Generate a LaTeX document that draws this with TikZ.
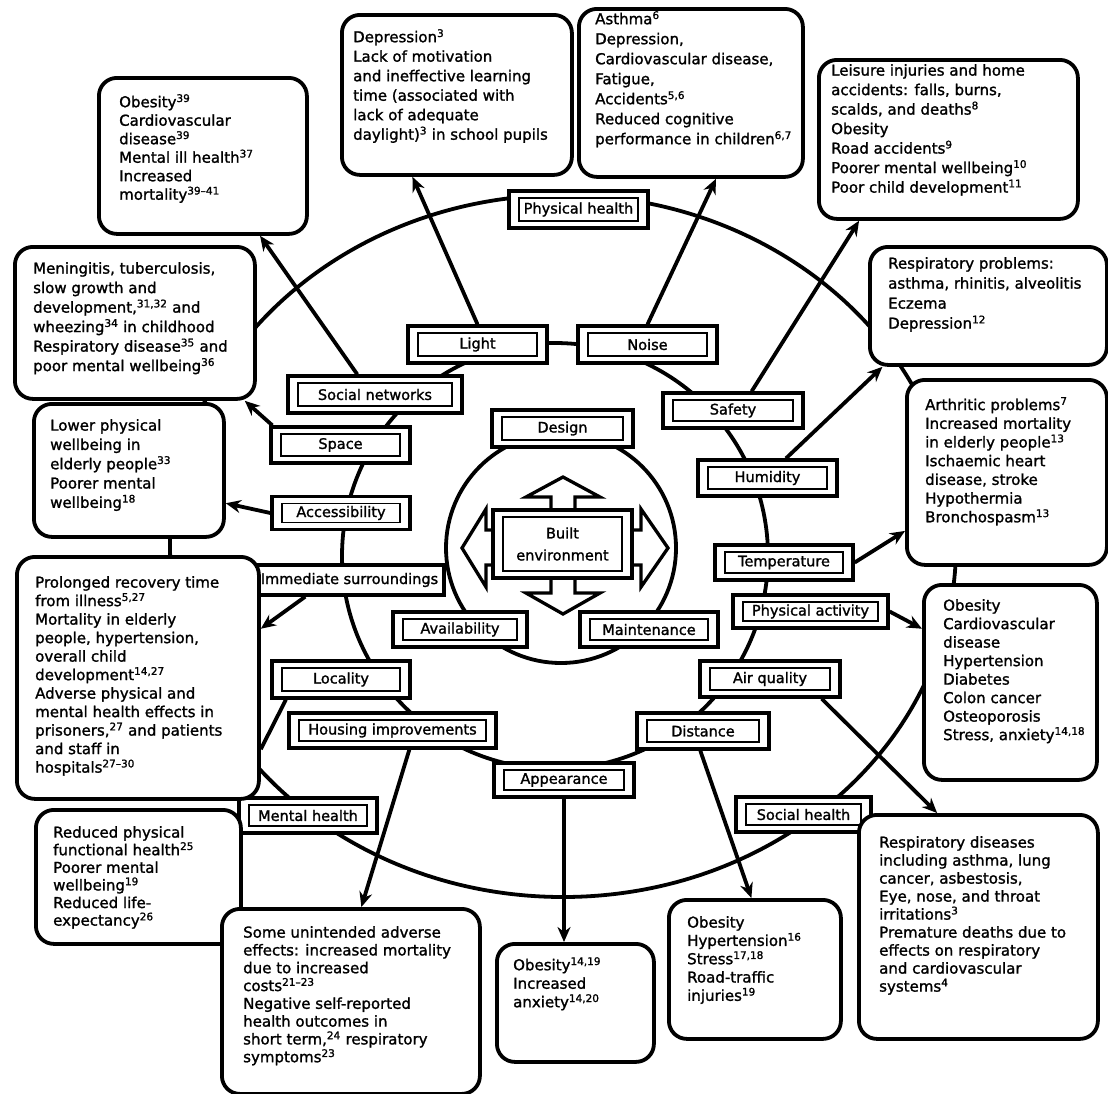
\documentclass[tikz,border=0pt]{standalone}
\usepackage{fontspec}
\setmainfont{DejaVu Sans}[FakeBold=1.4]
\usetikzlibrary{calc,arrows.meta}
\newcommand{\ssp}[1]{\textsuperscript{#1}}
\begin{document}
\begin{tikzpicture}[x=1pt,y=-1pt,
  ring/.style={draw,line width=3.8pt},
  obox/.style={draw,line width=3.8pt,rounded corners=18pt,fill=white,inner sep=0pt,anchor=north west},
  otext/.style={inner sep=0pt,anchor=north west,align=left,font=\fontsize{15}{#1}\selectfont},
  otext/.default=19.5,
  lab/.style={draw,line width=3.3pt,fill=white,inner sep=0pt,font=\fontsize{14.5}{17}\selectfont,
    path picture={\draw[line width=1.2pt] ([shift={(10pt,7pt)}]path picture bounding box.south west) rectangle ([shift={(-10pt,-7pt)}]path picture bounding box.north east);}},
  labs/.style={draw,line width=3.3pt,fill=white,inner sep=0pt,font=\fontsize{14.5}{17}\selectfont},
  conn/.style={line width=3.8pt},
  arr/.style={line width=3.8pt,-{Stealth[length=15pt,width=13pt]}},
  barrow/.style={draw,line width=3.3pt,fill=white,line join=miter}
]
\fill[white] (0,0) rectangle (1108,1093);
\useasboundingbox (0,0) rectangle (1108,1093);

% rings
\draw[ring] (563,546) ellipse [x radius=393pt, y radius=351pt];
\draw[ring] (555,556) circle [radius=213pt];
\draw[ring] (561,548) circle [radius=115pt];

% block arrows around the centre
\draw[barrow] (551,511) -- (551,497) -- (526,497) -- (563,477) -- (600,497) -- (575,497) -- (575,511) -- cycle;
\draw[barrow] (551,577) -- (551,593) -- (526,593) -- (563,614) -- (600,593) -- (575,593) -- (575,577) -- cycle;
\draw[barrow] (494,530) -- (486,530) -- (486,509) -- (462,548) -- (486,587) -- (486,565) -- (494,565) -- cycle;
\draw[barrow] (631,530) -- (641,530) -- (641,509) -- (668,548) -- (641,587) -- (641,565) -- (631,565) -- cycle;

% factor labels
\node[lab,minimum width=139pt,minimum height=37pt] (phys) at (578.5,209.5) {Physical health};
\node[lab,minimum width=139pt,minimum height=37pt] (light) at (477.5,344.5) {Light};
\node[lab,minimum width=139pt,minimum height=37pt] (noise) at (647.5,344.5) {Noise};
\node[lab,minimum width=174pt,minimum height=37pt] (socnet) at (375,394.5) {Social networks};
\node[lab,minimum width=139pt,minimum height=36pt] (space) at (340.5,445) {Space};
\node[lab,minimum width=141pt,minimum height=37pt] (design) at (562.5,428.5) {Design};
\node[lab,minimum width=140pt,minimum height=35pt] (safety) at (733,410.5) {Safety};
\node[lab,minimum width=139pt,minimum height=36pt] (humid) at (767.5,478) {Humidity};
\node[lab,minimum width=138pt,minimum height=33pt] (access) at (341,513) {Accessibility};
\node[labs,minimum width=189pt,minimum height=30pt] (imm) at (349.5,580) {Immediate surroundings};
\node[lab,minimum width=138pt,minimum height=35pt] (temp) at (784,562.5) {Temperature};
\node[lab,minimum width=134pt,minimum height=35pt] (avail) at (460,629.5) {Availability};
\node[lab,minimum width=138pt,minimum height=35pt] (maint) at (649,629.5) {Maintenance};
\node[lab,minimum width=155pt,minimum height=33pt] (physact) at (810.5,611.5) {Physical activity};
\node[lab,minimum width=138pt,minimum height=37pt] (locality) at (341,679.5) {Locality};
\node[lab,minimum width=140pt,minimum height=36pt] (airq) at (770,679) {Air quality};
\node[lab,minimum width=207pt,minimum height=35pt] (housing) at (392.5,730.5) {Housing improvements};
\node[lab,minimum width=132pt,minimum height=36pt] (distance) at (703,731) {Distance};
\node[lab,minimum width=140pt,minimum height=34pt] (appear) at (564,780) {Appearance};
\node[lab,minimum width=138pt,minimum height=35pt] (mental) at (308,815.5) {Mental health};
\node[lab,minimum width=135pt,minimum height=35pt] (social) at (803.5,814.5) {Social health};
\node[lab,minimum width=139pt,minimum height=68pt,align=center,font=\fontsize{14.5}{22}\selectfont] (built) at (562.5,544) {Built\\environment};

% outcome boxes
\node[obox,minimum width=208pt,minimum height=156pt] (obTL) at (97,76) {};
\node[otext=18.5] (obTLt) at (119,94) {Obesity\ssp{39}\\Cardiovascular\\disease\ssp{39}\\Mental ill health\ssp{37}\\Increased\\mortality\ssp{39--41}};

\node[obox,minimum width=230pt,minimum height=160pt] (dep) at (340,13) {};
\node[otext] (dept) at (353,29) {Depression\ssp{3}\\Lack of motivation\\and ineffective learning\\time (associated with\\lack of adequate\\daylight)\ssp{3} in school pupils};

\node[obox,minimum width=224pt,minimum height=168pt] (asthma) at (577,7) {};
\node[otext=20] (asthmat) at (595,11) {Asthma\ssp{6}\\Depression,\\Cardiovascular disease,\\Fatigue,\\Accidents\ssp{5,6}\\Reduced cognitive\\performance in children\ssp{6,7}};

\node[obox,minimum width=259pt,minimum height=159pt] (leisure) at (817,58) {};
\node[otext] (leisuret) at (831,64) {Leisure injuries and home\\accidents: falls, burns,\\scalds, and deaths\ssp{8}\\Obesity\\Road accidents\ssp{9}\\Poorer mental wellbeing\ssp{10}\\Poor child development\ssp{11}};

\node[obox,minimum width=240pt,minimum height=152pt] (mening) at (13,245) {};
\node[otext] (meningt) at (33,262) {Meningitis, tuberculosis,\\slow growth and\\development,\ssp{31,32} and\\wheezing\ssp{34} in childhood\\Respiratory disease\ssp{35} and\\poor mental wellbeing\ssp{36}};

\node[obox,minimum width=237pt,minimum height=118pt] (resp) at (868,245) {};
\node[otext=20] (respt) at (888,257) {Respiratory problems:\\asthma, rhinitis, alveolitis\\Eczema\\Depression\ssp{12}};

\node[obox,minimum width=190pt,minimum height=133pt] (lower) at (32,402) {};
\node[otext=19.3] (lowert) at (50,419) {Lower physical\\wellbeing in\\elderly people\ssp{33}\\Poorer mental\\wellbeing\ssp{18}};

\node[obox,minimum width=200pt,minimum height=185pt] (arth) at (905,378) {};
\node[otext=18.7] (artht) at (925,397) {Arthritic problems\ssp{7}\\Increased mortality\\in elderly people\ssp{13}\\Ischaemic heart\\disease, stroke\\Hypothermia\\Bronchospasm\ssp{13}};

\node[obox,minimum width=242pt,minimum height=242pt] (prolonged) at (15,555) {};
\node[otext=18.5] (prolongedt) at (35,576) {Prolonged recovery time\\from illness\ssp{5,27}\\Mortality in elderly\\people, hypertension,\\overall child\\development\ssp{14,27}\\Adverse physical and\\mental health effects in\\prisoners,\ssp{27} and patients\\and staff in\\hospitals\ssp{27--30}};

\node[obox,minimum width=173pt,minimum height=195pt] (obR) at (922,583) {};
\node[otext=18.5] (obRt) at (943,599) {Obesity\\Cardiovascular\\disease\\Hypertension\\Diabetes\\Colon cancer\\Osteoporosis\\Stress, anxiety\ssp{14,18}};

\node[obox,minimum width=205pt,minimum height=134pt] (reduced) at (34,808) {};
\node[otext=17.6] (reducedt) at (53,826) {Reduced physical\\functional health\ssp{25}\\Poorer mental\\wellbeing\ssp{19}\\Reduced life-\\expectancy\ssp{26}};

\node[obox,minimum width=258pt,minimum height=185pt] (unint) at (220,907) {};
\node[otext=17.8] (unintt) at (243,926) {Some unintended adverse\\effects: increased mortality\\due to increased\\costs\ssp{21--23}\\Negative self-reported\\health outcomes in\\short term,\ssp{24} respiratory\\symptoms\ssp{23}};

\node[obox,minimum width=157pt,minimum height=118pt] (obbc) at (495,942) {};
\node[otext=18.5] (obbct) at (513,957) {Obesity\ssp{14,19}\\Increased\\anxiety\ssp{14,20}};

\node[obox,minimum width=172pt,minimum height=139pt] (oh) at (667,898) {};
\node[otext=18.3] (oht) at (687,916) {Obesity\\Hypertension\ssp{16}\\Stress\ssp{17,18}\\Road-traffic\\injuries\ssp{19}};

\node[obox,minimum width=239pt,minimum height=224pt] (respd) at (857,813) {};
\node[otext=18] (respdt) at (879,836) {Respiratory diseases\\including asthma, lung\\cancer, asbestosis,\\Eye, nose, and throat\\irritations\ssp{3}\\Premature deaths due to\\effects on respiratory\\and cardiovascular\\systems\ssp{4}};

% connectors
\draw[arr] ($(socnet.north west)!0.40!(socnet.north east)$) -- ($(obTL.south west)!0.77!(obTL.south east)$);
\draw[arr] ($(space.north west)+(3,0)$) -- ($(mening.south east)+(-12,0)$);
\draw[arr] (access.west) -- ($(lower.north east)!0.74!(lower.south east)$);
\draw[arr] (light.north) -- ($(dep.south west)!0.31!(dep.south east)$);
\draw[arr] (noise.north) -- ($(asthma.south west)!0.61!(asthma.south east)$);
\draw[arr] ($(safety.north west)!0.63!(safety.north east)$) -- ($(leisure.south west)!0.16!(leisure.south east)$);
\draw[arr] ($(humid.north west)!0.63!(humid.north east)$) -- ($(resp.south west)!0.06!(resp.south east)$);
\draw[arr] (temp.east) -- ($(arth.north west)!0.81!(arth.south west)$);
\draw[arr] (physact.east) -- ($(obR.north west)!0.23!(obR.south west)$);
\draw[arr] ($(imm.south west)!0.27!(imm.south east)$) -- ($(prolonged.north east)!0.30!(prolonged.south east)$);
\draw[conn] ($(locality.south west)!0.11!(locality.south east)$) -- ($(prolonged.north east)!0.79!(prolonged.south east)$);
\draw[arr] ($(housing.south west)!0.58!(housing.south east)$) -- ($(unint.north west)!0.54!(unint.north east)$);
\draw[arr] (appear.south) -- (appear.south |- obbc.north);
\draw[arr] ($(distance.south west)!0.48!(distance.south east)$) -- ($(oh.north west)!0.48!(oh.north east)$);
\draw[arr] ($(airq.south west)!0.86!(airq.south east)$) -- ($(respd.north west)!0.33!(respd.north east)$);
\end{tikzpicture}
\end{document}
